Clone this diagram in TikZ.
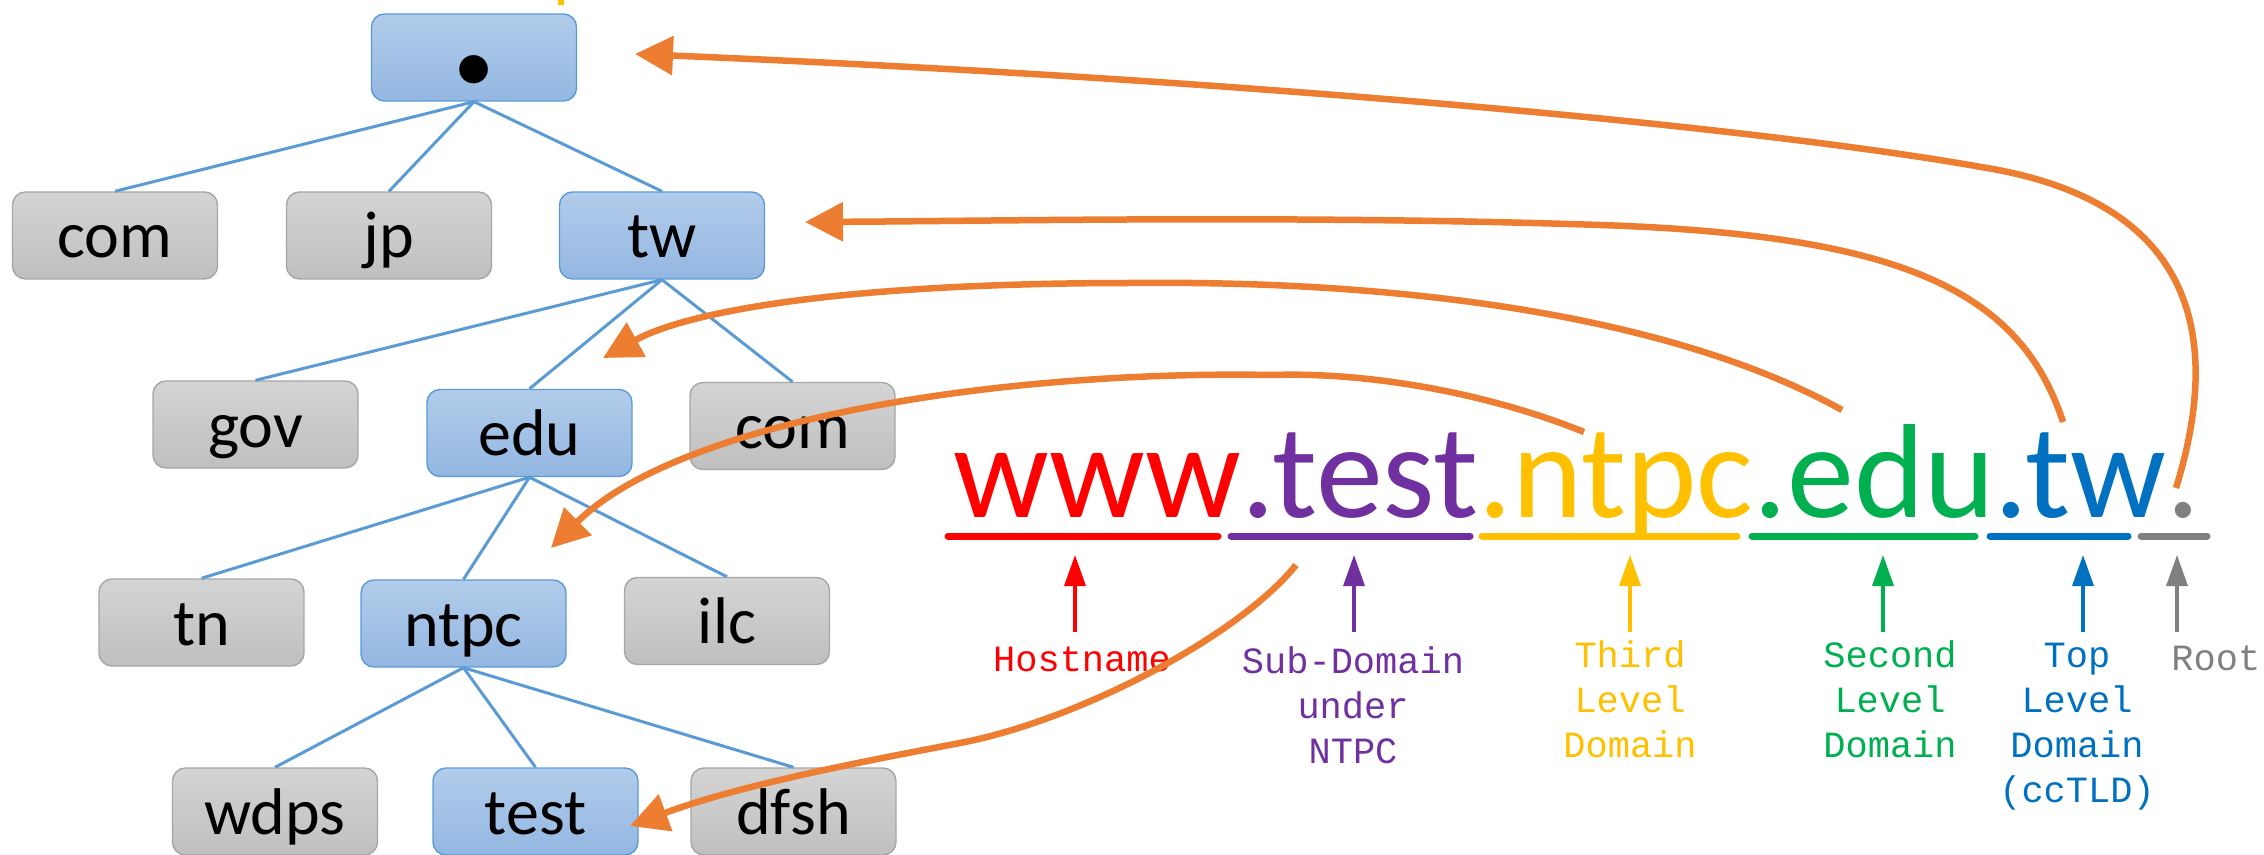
\documentclass[tikz,border=0pt]{standalone}
\usepackage{fontspec}
\setmainfont{Carlito}
\newfontfamily\monofnt{Liberation Mono}
\usetikzlibrary{arrows.meta}
\definecolor{treeblue}{HTML}{5B9BD5}
\definecolor{boxtop}{HTML}{B2CCEA}
\definecolor{boxbot}{HTML}{93B7E2}
\definecolor{graytop}{HTML}{D4D4D4}
\definecolor{graybot}{HTML}{BFBFBF}
\definecolor{graybrd}{HTML}{A6A6A6}
\definecolor{ptrorange}{HTML}{ED7D31}
\definecolor{cred}{HTML}{FF0000}
\definecolor{cpurple}{HTML}{7030A0}
\definecolor{cyellow}{HTML}{FFC000}
\definecolor{cgreen}{HTML}{00B050}
\definecolor{cblue}{HTML}{0070C0}
\definecolor{cgray}{HTML}{808080}
\newcommand{\lines}[1]{\setlength{\tabcolsep}{0pt}\begin{tabular}[t]{c}#1\end{tabular}}
\begin{document}
\begin{tikzpicture}[x=0.5pt,y=-0.5pt,
  box/.style={rounded corners=6.5pt, minimum width=102.5pt, minimum height=43.5pt,
    inner sep=0pt, font=\fontsize{33}{33}\selectfont, text height=26pt, text depth=3.5pt,
    line width=0.7pt},
  bluebox/.style={box, draw=treeblue, top color=boxtop, bottom color=boxbot},
  graybox/.style={box, draw=graybrd, top color=graytop, bottom color=graybot},
  tl/.style={draw=treeblue, line width=1.5pt},
  ptr/.style={draw=ptrorange, line width=3.25pt, -{Triangle[length=19pt,width=19pt]}},
  uparrow/.style={line width=1.75pt, -{Triangle[length=15.5pt,width=10.5pt]}},
  lbl/.style={font=\monofnt\fontsize{18.5}{22.5}\selectfont, anchor=base, inner sep=0pt},
  bar/.style={line width=3.5pt, line cap=round}
]
\useasboundingbox (0,0) rectangle (2264,855);
\fill[cyellow] (558,0) rectangle (564,5);

% tree nodes
\node[bluebox, text height=28pt, text depth=2.5pt] (root) at (474,57.5) {\scalebox{2.9}{\bfseries .}};
\node[graybox] (com) at (115,235.5) {com};
\node[graybox] (jp) at (389,235.5) {jp};
\node[bluebox] (tw) at (662,235.5) {tw};
\node[graybox] (gov) at (255.5,424.5) {gov};
\node[bluebox] (edu) at (529.5,433) {edu};
\node[graybox] (comb) at (792.5,426) {com};
\node[graybox] (tn) at (201.5,622.5) {tn};
\node[bluebox] (ntpc) at (463.5,623.5) {ntpc};
\node[graybox] (ilc) at (727,621) {ilc};
\node[graybox] (wdps) at (275,811.5) {wdps};
\node[bluebox] (test) at (535.5,811.5) {test};
\node[graybox] (dfsh) at (793.5,811.5) {dfsh};

% tree lines
\foreach \c in {com,jp,tw} \draw[tl] (root.south) -- (\c.north);
\foreach \c in {gov,edu,comb} \draw[tl] (tw.south) -- (\c.north);
\foreach \c in {tn,ntpc,ilc} \draw[tl] (edu.south) -- (\c.north);
\foreach \c in {wdps,test,dfsh} \draw[tl] (ntpc.south) -- (\c.north);

% URL
\node[anchor=base west, inner sep=0pt, font=\fontsize{67}{67}\selectfont] (url) at (953,517)
  {\textcolor{cred}{www}\textcolor{cpurple}{.test}\textcolor{cyellow}{.ntpc}\textcolor{cgreen}{.edu}\textcolor{cblue}{.tw}\textcolor{cgray}{.}};

% underline bars
\draw[bar, cred] (948,536) -- (1218,536);
\draw[bar, cpurple] (1231,536) -- (1470,536);
\draw[bar, cyellow] (1482,536) -- (1737,536);
\draw[bar, cgreen] (1752,536) -- (1975,536);
\draw[bar, cblue] (1990,536) -- (2128,536);
\draw[bar, cgray] (2141,536) -- (2207,536);

% labels
\node[lbl, text=cred] (lhost) at (1082,671) {Hostname};
\node[lbl, text=cpurple] (lsub) at (1353,673) {\lines{Sub-Domain\\under\\NTPC}};
\node[lbl, text=cyellow] (lthird) at (1630,667) {\lines{Third\\Level\\Domain}};
\node[lbl, text=cgreen] (lsecond) at (1890,667) {\lines{Second\\Level\\Domain}};
\node[lbl, text=cblue] (ltop) at (2077,667) {\lines{Top\\Level\\Domain\\(ccTLD)}};
\node[lbl, text=cgray, anchor=base west] (lroot) at (2171,670) {Root};

% small up arrows
\coordinate (u1s) at (1075,632); \coordinate (u1e) at (1075,555);
\coordinate (u2s) at (1354,632); \coordinate (u2e) at (1354,555);
\coordinate (u3s) at (1630,632); \coordinate (u3e) at (1630,555);
\coordinate (u4s) at (1883,632); \coordinate (u4e) at (1883,555);
\coordinate (u5s) at (2083,632); \coordinate (u5e) at (2083,555);
\coordinate (u6s) at (2177,632); \coordinate (u6e) at (2177,555);
\draw[uparrow, cred] (u1s) -- (u1e);
\draw[uparrow, cpurple] (u2s) -- (u2e);
\draw[uparrow, cyellow] (u3s) -- (u3e);
\draw[uparrow, cgreen] (u4s) -- (u4e);
\draw[uparrow, cblue] (u5s) -- (u5e);
\draw[uparrow, cgray] (u6s) -- (u6e);

% orange pointers
\coordinate (p1s) at (2176,488); \coordinate (p1e) at (635,54);
\coordinate (p2s) at (2063,422); \coordinate (p2e) at (805,222);
\coordinate (p3s) at (1842,410); \coordinate (p3e) at (603,358);
\coordinate (p4s) at (1584,432); \coordinate (p4e) at (551,548);
\coordinate (p5s) at (1296,565); \coordinate (p5e) at (630,826);

\draw[ptr] (p1s) .. controls (2225,330) and (2190,200) .. (1981,167)
  .. controls (1780,131) and (1300,82) .. (p1e);
\draw[ptr] (p2s) .. controls (2020,290) and (1900,235) .. (1600,225)
  .. controls (1300,215) and (1000,221) .. (p2e);
\draw[ptr] (p3s) .. controls (1680,320) and (1420,280) .. (1132,283)
  .. controls (850,283) and (690,310) .. (p3e);
\draw[ptr] (p4s) .. controls (1480,390) and (1360,372) .. (1273,375)
  .. controls (1000,370) and (680,420) .. (p4e);
\draw[ptr] (p5s) .. controls (1240,635) and (1080,720) .. (960,743)
  .. controls (860,762) and (740,785) .. (p5e);
\end{tikzpicture}
\end{document}
